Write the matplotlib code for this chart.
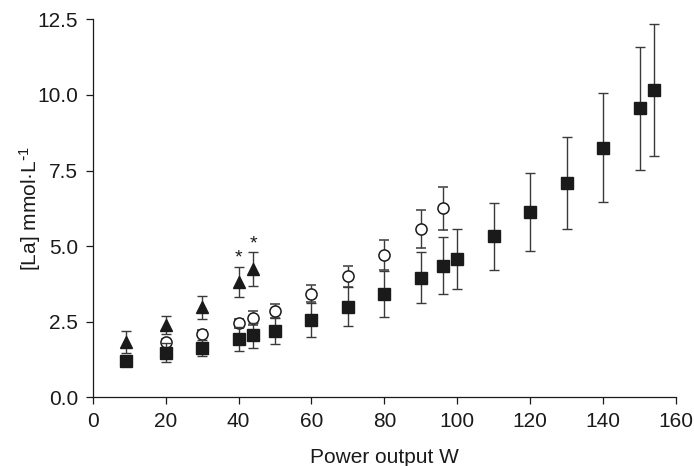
import numpy as np
import matplotlib
matplotlib.use("Agg")
import matplotlib.pyplot as plt

# Squares (filled)
sq_x = [9, 20, 30, 40, 44, 50, 60, 70, 80, 90, 96, 100, 110, 120, 130, 140, 150, 154]
sq_y = [1.20, 1.48, 1.63, 1.93, 2.05, 2.20, 2.56, 3.00, 3.41, 3.96, 4.35, 4.58, 5.32, 6.14, 7.10, 8.25, 9.56, 10.16]
sq_err = [0.10, 0.30, 0.28, 0.39, 0.41, 0.43, 0.56, 0.65, 0.77, 0.84, 0.95, 0.99, 1.12, 1.29, 1.52, 1.80, 2.04, 2.18]

# Open circles
ci_x = [20, 30, 40, 44, 50, 60, 70, 80, 90, 96]
ci_y = [1.82, 2.10, 2.45, 2.62, 2.85, 3.43, 4.00, 4.71, 5.57, 6.25]
ci_err = [0.10, 0.12, 0.15, 0.22, 0.23, 0.27, 0.35, 0.50, 0.63, 0.72]

# Filled triangles
tr_x = [9, 20, 30, 40, 44]
tr_y = [1.83, 2.40, 2.98, 3.82, 4.24]
tr_err = [0.37, 0.29, 0.38, 0.50, 0.55]

# significance marks
star_x = [40, 44]
star_y = [4.62, 5.08]

plt.rcParams['font.family'] = ['Liberation Sans', 'DejaVu Sans']
plt.rcParams['mathtext.default'] = 'regular'

fig = plt.figure(figsize=(6.94, 4.66), dpi=100)
ax = fig.add_axes([0.1336, 0.1474, 0.974 - 0.1336, 0.9586 - 0.1474])

ebar = dict(ls='none', ecolor='#3a3a3a', elinewidth=1.0, capsize=3.5, capthick=1.0)

ax.errorbar(tr_x, tr_y, yerr=tr_err, marker='^', ms=9, mfc='#1a1a1a', mec='#1a1a1a', zorder=3, **ebar)
ax.errorbar(ci_x, ci_y, yerr=ci_err, marker='o', ms=8, mfc='white', mec='#1a1a1a', mew=1.1, zorder=4, **ebar)
ax.errorbar(sq_x, sq_y, yerr=sq_err, marker='s', ms=8.5, mfc='#1a1a1a', mec='#1a1a1a', zorder=5, **ebar)

for sx, sy in zip(star_x, star_y):
    ax.text(sx, sy, '*', ha='center', va='center', fontsize=14, color='#1a1a1a')

ax.set_xlim(0, 160)
ax.set_ylim(0, 12.5)
ax.set_xticks(np.arange(0, 161, 20))
ax.set_yticks(np.arange(0, 12.6, 2.5))
ax.set_yticklabels(['%.1f' % v for v in np.arange(0, 12.6, 2.5)])

for s in ['top', 'right']:
    ax.spines[s].set_visible(False)
for s in ['left', 'bottom']:
    ax.spines[s].set_linewidth(0.9)
    ax.spines[s].set_color('#1a1a1a')

ax.tick_params(direction='out', length=5, width=0.9, colors='#1a1a1a', labelsize=15, pad=5.5)

ax.set_xlabel('Power output W', fontsize=15, color='#1a1a1a', labelpad=12)
ax.set_ylabel(r'[La] mmol·L$^{\text{-}1}$', fontsize=15, color='#1a1a1a', labelpad=-4)

fig.savefig('out.png', dpi=100)
